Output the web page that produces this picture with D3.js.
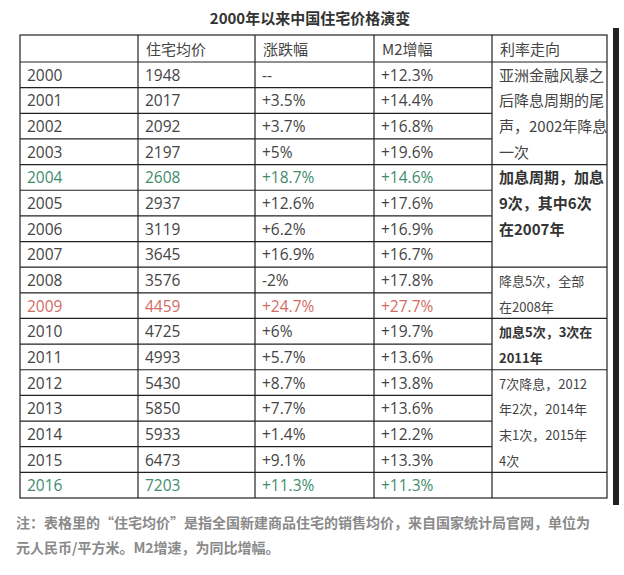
<!DOCTYPE html>
<html><head><meta charset="utf-8">
<script src="https://cdn.jsdelivr.net/npm/d3@7"></script>
<style>body{margin:0;background:#fff}</style>
</head><body><div id="chart"></div>
<script>
const years = ["2000","2001","2002","2003","2004","2005","2006","2007","2008","2009","2010","2011","2012","2013","2014","2015","2016"];
const prices = ["1948","2017","2092","2197","2608","2937","3119","3645","3576","4459","4725","4993","5430","5850","5933","6473","7203"];
const changes = ["--","+3.5%","+3.7%","+5%","+18.7%","+12.6%","+6.2%","+16.9%","-2%","+24.7%","+6%","+5.7%","+8.7%","+7.7%","+1.4%","+9.1%","+11.3%"];
const m2 = ["+12.3%","+14.4%","+16.8%","+19.6%","+14.6%","+17.6%","+16.9%","+16.7%","+17.8%","+27.7%","+19.7%","+13.6%","+13.8%","+13.6%","+12.2%","+13.3%","+11.3%"];
const headers = ["","住宅均价","涨跌幅","M2增幅","利率走向"];
const rateGroups = [
  {start:0, span:4, bold:false, lines:["亚洲金融风暴之","后降息周期的尾","声，2002年降息","一次"]},
  {start:4, span:4, bold:true, lines:["加息周期，加息","9次，其中6次","在2007年"]},
  {start:8, span:2, bold:false, small:true, lines:["降息5次，全部","在2008年"]},
  {start:10, span:2, bold:true, small:true, lines:["加息5次，3次在","2011年"]},
  {start:12, span:4, bold:false, small:true, lines:["7次降息，2012","年2次，2014年","末1次，2015年","4次"]},
  {start:16, span:1, bold:false, lines:[]}
];
const highlight = {"2004":"#3f8c6c","2016":"#3f8c6c","2009":"#d36b62"};

const W = 624, H = 575;
const colX = [20,138,255,374,492,607];
const top0 = 35, headH = 27;
const svg = d3.select("#chart").append("svg").attr("width",W).attr("height",H)
  .style("font-family","'Noto Sans CJK SC','Open Sans',sans-serif");

const y = d3.scaleBand().domain(years).range([top0+headH, 498]);
const rh = y.bandwidth();

svg.append("text").attr("x",310).attr("y",24).attr("text-anchor","middle")
  .attr("font-size",15).attr("font-weight","bold").attr("fill","#333").text("2000年以来中国住宅价格演变");

const g = svg.append("g").attr("stroke","#222").attr("stroke-width",1.2);
g.append("rect").attr("x",colX[0]).attr("y",top0).attr("width",colX[5]-colX[0]).attr("height",498-top0).attr("fill","none");
colX.slice(1,5).forEach(x=>g.append("line").attr("x1",x).attr("x2",x).attr("y1",top0).attr("y2",498));
g.append("line").attr("x1",colX[0]).attr("x2",colX[5]).attr("y1",top0+headH).attr("y2",top0+headH);
years.slice(1).forEach(yr=>g.append("line").attr("x1",colX[0]).attr("x2",colX[4]).attr("y1",y(yr)).attr("y2",y(yr)));
rateGroups.slice(1).forEach(gr=>g.append("line").attr("x1",colX[4]).attr("x2",colX[5]).attr("y1",y(years[gr.start])).attr("y2",y(years[gr.start])));
// dark edge beside the table
svg.append("rect").attr("x",613).attr("y",28).attr("width",6).attr("height",477).attr("fill","#222");

headers.forEach((h,i)=>svg.append("text").attr("x",colX[i]+8).attr("y",top0+headH/2+6)
  .attr("font-size",15).attr("fill","#444").text(h));

const cols = [years,prices,changes,m2];
years.forEach((yr,r)=>{
  cols.forEach((c,i)=>svg.append("text").attr("x",colX[i]+7).attr("y",y(yr)+rh/2+6)
    .attr("font-size",15.5).attr("font-family","'Open Sans',sans-serif")
    .attr("fill",highlight[yr]||"#444").text(c[r]));
});
rateGroups.forEach(gr=>{
  gr.lines.forEach((t,k)=>svg.append("text").attr("x",colX[4]+7).attr("y",y(years[gr.start])+rh*k+rh/2+6)
    .attr("font-size",gr.small?13:15).attr("font-weight",gr.bold?"bold":"normal")
    .attr("fill",gr.bold?"#333":"#444").text(t));
});

const notes = ["注：表格里的“住宅均价”是指全国新建商品住宅的销售均价，来自国家统计局官网，单位为","元人民币/平方米。M2增速，为同比增幅。"];
notes.forEach((t,i)=>svg.append("text").attr("x",16).attr("y",528+i*25).attr("font-size",14)
  .attr("font-weight","bold").attr("fill","#8a8a8a").text(t));
</script></body></html>
